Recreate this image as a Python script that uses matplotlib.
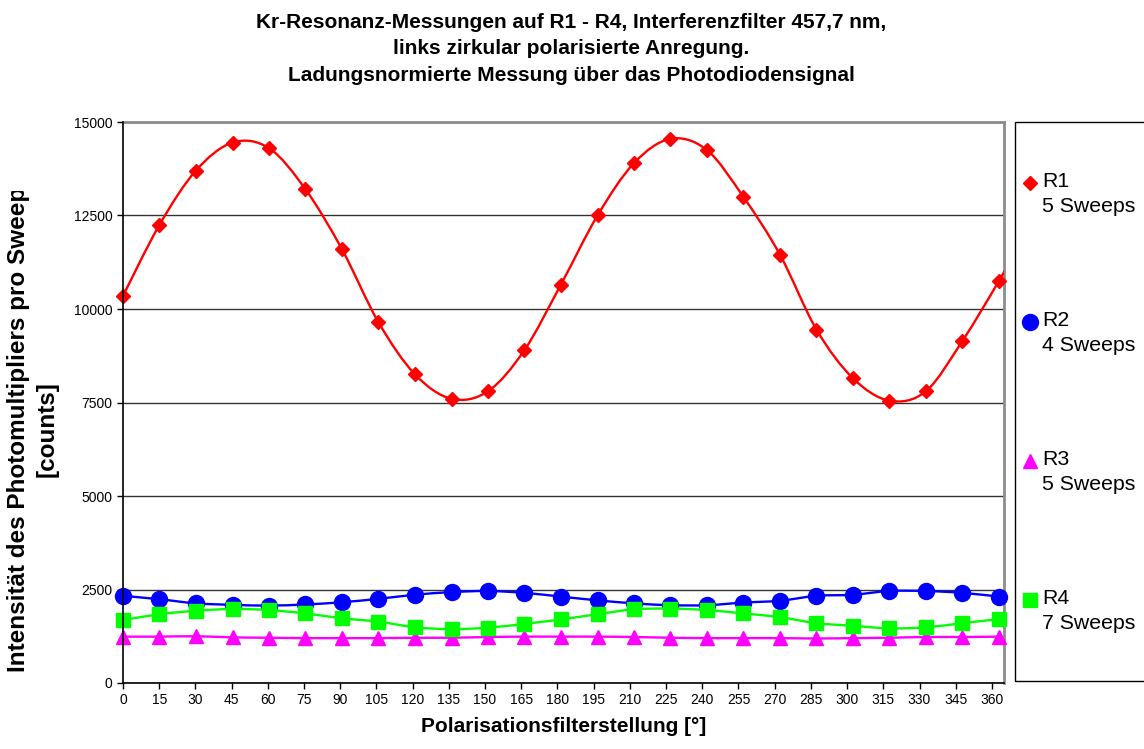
import numpy as np
import matplotlib
matplotlib.use("Agg")
import matplotlib.pyplot as plt
from matplotlib.path import Path
from matplotlib.patches import PathPatch, Rectangle
from matplotlib.lines import Line2D
from matplotlib.transforms import Bbox

plt.rcParams['font.family'] = ['Liberation Sans', 'DejaVu Sans']

# Polarisationsfilterstellung [°] (gemessene Winkel)
winkel = [0, 15.1, 30.2, 45.4, 60.5, 75.6, 90.7, 105.8, 121.0, 136.1, 151.2, 166.3, 181.4,
          196.6, 211.7, 226.8, 241.9, 257.0, 272.2, 287.3, 302.4, 317.5, 332.6, 347.8, 362.9]

# R1 hat noch einen Punkt ausserhalb der Achse (Linie laeuft rechts raus)
r1_winkel = winkel + [378.0]
r1 = [10350, 12250, 13700, 14450, 14300, 13200, 11600, 9650, 8250, 7600, 7800, 8900, 10650,
      12500, 13900, 14550, 14250, 13000, 11450, 9450, 8150, 7550, 7800, 9150, 10750, 12450]
r2 = [2330, 2240, 2130, 2090, 2070, 2100, 2160, 2250, 2360, 2430, 2460, 2410, 2310,
      2210, 2130, 2080, 2080, 2150, 2200, 2330, 2360, 2460, 2460, 2410, 2310]
r3 = [1240, 1240, 1250, 1220, 1210, 1200, 1200, 1200, 1210, 1210, 1230, 1240, 1240,
      1240, 1230, 1210, 1200, 1200, 1200, 1190, 1200, 1210, 1230, 1230, 1240]
r4 = [1680, 1840, 1930, 1980, 1950, 1860, 1730, 1640, 1490, 1440, 1480, 1580, 1700,
      1840, 1970, 1990, 1950, 1860, 1760, 1600, 1530, 1460, 1490, 1600, 1710]

namen = ['R1', 'R2', 'R3', 'R4']
sweeps = ['5 Sweeps', '4 Sweeps', '5 Sweeps', '7 Sweeps']
farben = ['#FF0000', '#0000FF', '#FF00FF', '#00FF00']
marker = ['D', 'o', '^', 's']
msize = [7.5, 11.5, 10, 10]
x_ticks = list(range(0, 361, 15))
y_ticks = [0, 2500, 5000, 7500, 10000, 12500, 15000]


def glatte_kurve(x, y):
    # geglaettete Linie wie in Excel (Bezier durch die Messpunkte)
    p = np.column_stack([x, y]).astype(float)
    verts = [p[0]]
    codes = [Path.MOVETO]
    n = len(p)
    for i in range(n - 1):
        p0 = p[i - 1] if i > 0 else p[i]
        p3 = p[i + 2] if i + 2 < n else p[i + 1]
        c1 = p[i] + (p[i + 1] - p0) / 6
        c2 = p[i + 1] - (p3 - p[i]) / 6
        verts += [c1, c2, p[i + 1]]
        codes += [Path.CURVE4] * 3
    return Path(verts, codes)


fig = plt.figure(figsize=(11.44, 7.49), dpi=100)
ax = fig.add_axes([123 / 1144, 1 - 683 / 749, (1004 - 123) / 1144, (683 - 122) / 749])

xmax = 365
daten = [(r1_winkel, r1), (winkel, r2), (winkel, r3), (winkel, r4)]
for k, (xs, ys) in enumerate(daten):
    patch = PathPatch(glatte_kurve(xs, ys), fill=False, edgecolor=farben[k], lw=1.7,
                      zorder=3 + 2 * k)
    ax.add_patch(patch)
    xs = np.array(xs)
    ys = np.array(ys)
    m = xs <= xmax
    ax.plot(xs[m], ys[m], linestyle='none', marker=marker[k], ms=msize[k],
            color=farben[k], mec=farben[k], clip_on=False, zorder=4 + 2 * k)

ax.set_xlim(0, xmax)
ax.set_ylim(0, 15000)
ax.set_xticks(x_ticks)
ax.set_yticks(y_ticks)
ax.tick_params(axis='both', direction='out', length=4, width=1, labelsize=10, pad=3.5,
               colors='black')
ax.yaxis.grid(True, color='#333333', lw=1)
ax.set_axisbelow(True)
for s in ['left', 'bottom']:
    ax.spines[s].set_color('black')
    ax.spines[s].set_linewidth(1.2)
for s in ['top', 'right']:
    ax.spines[s].set_color('#8c8c8c')
    ax.spines[s].set_linewidth(2)
ax.spines['left'].set_zorder(20)
ax.spines['bottom'].set_zorder(20)

ax.set_xlabel('Polarisationsfilterstellung [°]', fontsize=15, fontweight='bold', labelpad=7)

# y-Beschriftung, oben abgeschnitten wie im Original
ylab = fig.text(33 / 1144, 1 - 429 / 749,
                'Intensität des Photomultipliers pro Sweep\n[counts]',
                rotation=90, ha='center', va='center', ma='center',
                fontsize=17.5, fontweight='bold', linespacing=1.3)
ylab.set_clip_box(Bbox([[0, 0], [120, 749 - 191]]))
ylab.set_clip_on(True)

fig.text(571 / 1144, 1 - 49 / 749,
         'Kr-Resonanz-Messungen auf R1 - R4, Interferenzfilter 457,7 nm,\n'
         'links zirkular polarisierte Anregung.\n'
         'Ladungsnormierte Messung über das Photodiodensignal',
         ha='center', va='center', ma='center', fontsize=15, fontweight='bold',
         linespacing=1.5)

# Legende von Hand (Marker auf Hoehe der ersten Zeile)
fig.add_artist(Rectangle((1015 / 1144, 1 - 681 / 749), 0.2, (681 - 122) / 749,
                         transform=fig.transFigure, fill=False, edgecolor='black', lw=1))
for k in range(4):
    yk = 1 - (183 + 139 * k) / 749
    fig.add_artist(Line2D([1030 / 1144], [yk], transform=fig.transFigure,
                          marker=marker[k], ms=msize[k], color=farben[k],
                          linestyle='none'))
    fig.text(1042 / 1144, yk + 11 / 749, namen[k] + '\n' + sweeps[k], ha='left', va='top',
             fontsize=15.3, linespacing=1.42)

fig.savefig('out.png', dpi=100)
